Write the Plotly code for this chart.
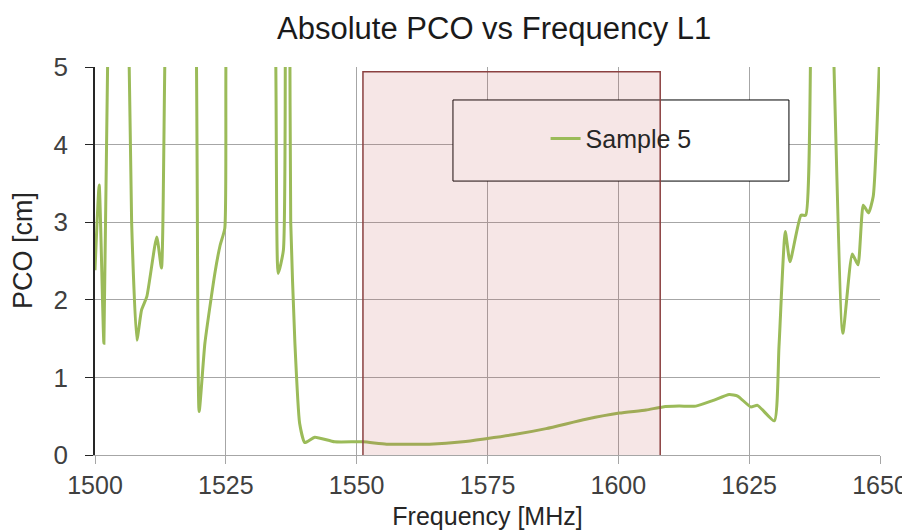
import plotly.graph_objects as go

# Frequency [MHz] and absolute PCO [cm] for Sample 5 (values above 5 run off the top of the chart)
freq = [1500.0, 1500.8, 1501.7, 1502.6, 1504.5, 1506.3, 1507.0, 1508.0, 1508.9, 1509.9,
        1511.8, 1512.7, 1513.6, 1516.5, 1519.2, 1519.9, 1521.0, 1522.9, 1523.9, 1524.8,
        1525.2, 1530.0, 1534.3, 1535.0, 1536.0, 1536.4, 1536.8, 1537.2, 1537.4, 1538.2,
        1539.1, 1540.1, 1542.0, 1545.8, 1551.2, 1555.7, 1563.9, 1570.3, 1574.7, 1579.8,
        1586.2, 1593.8, 1600.2, 1605.3, 1608.5, 1611.6, 1614.8, 1618.0, 1621.2, 1622.8,
        1625.3, 1626.6, 1629.8, 1630.7, 1631.9, 1632.8, 1634.9, 1635.8, 1636.9, 1639.0,
        1640.8, 1642.9, 1644.7, 1645.8, 1646.8, 1647.8, 1648.7, 1650.0]
pco = [2.38, 3.48, 1.44, 6.0, 9.0, 6.0, 3.0, 1.48, 1.87, 2.04,
       2.81, 2.41, 6.0, 9.0, 6.0, 0.56, 1.44, 2.34, 2.70, 2.92,
       6.0, 9.0, 6.0, 2.34, 2.64, 6.0, 8.0, 6.0, 3.0, 1.44,
       0.41, 0.16, 0.23, 0.17, 0.17, 0.14, 0.14, 0.17, 0.21, 0.26,
       0.34, 0.46, 0.54, 0.58, 0.62, 0.63, 0.63, 0.70, 0.78, 0.76,
       0.62, 0.64, 0.44, 1.40, 2.88, 2.49, 3.09, 3.09, 6.0, 9.0,
       6.0, 1.57, 2.59, 2.45, 3.22, 3.12, 3.33, 5.3]

series_name = "Sample 5"
band_start, band_end = 1551.2, 1608.0   # highlighted L1 band [MHz]
band_low, band_high = -0.065, 4.94

x_ticks = [1500, 1525, 1550, 1575, 1600, 1625, 1650]
y_ticks = [0, 1, 2, 3, 4, 5]

FONT = "Liberation Sans, Arial, sans-serif"
GRID = "#a6a6a6"

fig = go.Figure()
fig.add_trace(go.Scatter(
    x=freq, y=pco, mode="lines", name=series_name,
    line=dict(color="#9BBB59", width=3, shape="spline", smoothing=0.5),
    showlegend=True,
))

# legend frame (white, hides gridlines)
fig.add_shape(type="rect", xref="paper", yref="paper",
              x0=0.456, x1=0.884, y0=0.706, y1=0.915,
              fillcolor="white", line=dict(color="black", width=1), layer="above")

# highlighted band, translucent, drawn on top of everything
fig.add_shape(type="rect", xref="x", yref="y",
              x0=band_start, x1=band_end, y0=band_low, y1=band_high,
              fillcolor="rgba(192,80,77,0.14)",
              line=dict(color="#8B4040", width=1.5), layer="above")

# y-axis title
fig.add_annotation(text="PCO [cm]", xref="paper", yref="paper",
                   x=-0.092, y=0.528, xanchor="center", yanchor="middle",
                   textangle=-90, showarrow=False,
                   font=dict(family=FONT, size=27, color="#262626"))

fig.update_layout(
    width=902, height=524,
    margin=dict(l=87, r=30, t=59, b=77),
    paper_bgcolor="white", plot_bgcolor="white",
    font=dict(family=FONT, size=25, color="#404040"),
    title=dict(text="Absolute PCO vs Frequency L1", x=0.539, xanchor="center",
               y=0.962, yanchor="middle",
               font=dict(family=FONT, size=31, color="#1a1a1a")),
    legend=dict(x=0.574, y=0.815, xanchor="left", yanchor="middle",
                bgcolor="rgba(0,0,0,0)", borderwidth=0,
                font=dict(family=FONT, size=25, color="#262626"),
                itemwidth=30),
    showlegend=True,
)

fig.update_xaxes(range=[1500, 1650], tickvals=x_ticks, ticktext=[str(t) for t in x_ticks],
                 showgrid=True, gridcolor=GRID, gridwidth=1,
                 showline=True, linecolor=GRID, linewidth=1,
                 ticks="outside", ticklen=8, tickcolor=GRID,
                 zeroline=False, automargin=False,
                 title=dict(text="Frequency [MHz]", standoff=9,
                            font=dict(family=FONT, size=25, color="#262626")),
                 tickfont=dict(family=FONT, size=25, color="#404040"))
fig.update_yaxes(range=[0, 5], tickvals=y_ticks,
                 showgrid=True, gridcolor=GRID, gridwidth=1,
                 showline=True, linecolor="#262626", linewidth=1.5,
                 ticks="outside", ticklen=8, tickcolor="#262626",
                 ticklabelstandoff=12,
                 zeroline=False, automargin=False,
                 tickfont=dict(family=FONT, size=26, color="#404040"))

fig.write_html("out.html")
